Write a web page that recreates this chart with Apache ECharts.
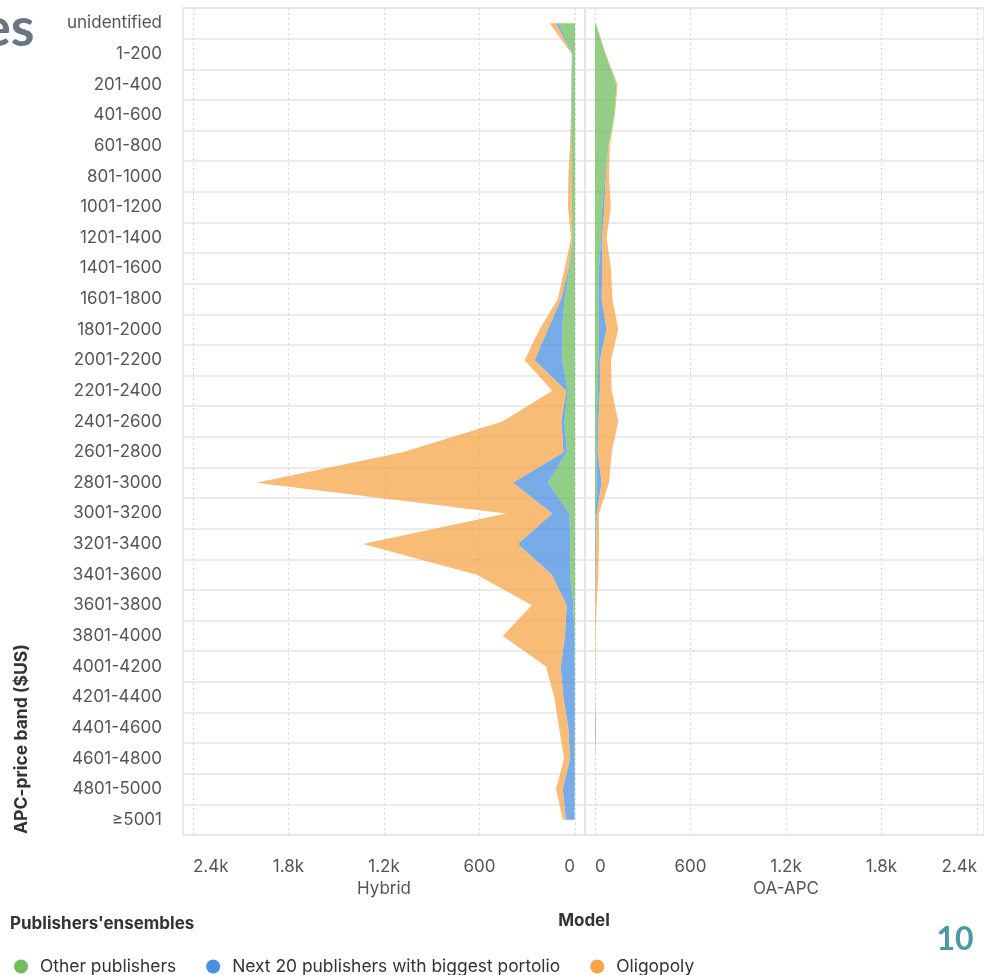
<!DOCTYPE html>
<html><head><meta charset="utf-8">
<script src="https://cdn.jsdelivr.net/npm/echarts@6/dist/echarts.min.js"></script>
<style>html,body{margin:0;padding:0;background:#fff}#c{width:984px;height:975px}</style>
</head><body><div id="c"></div>
<script>
const categories = ['unidentified','1-200','201-400','401-600','601-800','801-1000','1001-1200','1201-1400','1401-1600','1601-1800','1801-2000','2001-2200','2201-2400','2401-2600','2601-2800','2801-3000','3001-3200','3201-3400','3401-3600','3601-3800','3801-4000','4001-4200','4201-4400','4401-4600','4601-4800','4801-5000','≥5001'];
const seriesNames = ['Other publishers','Next 20 publishers with biggest portolio','Oligopoly'];
const panelNames = ['Hybrid','OA-APC'];
const xTickValues = [0, 600, 1200, 1800, 2400];
const xTickLabels = ['0', '600', '1.2k', '1.8k', '2.4k'];

// Hybrid model
const hybridOther     = [105,15,20,22,22,20,20,15,35,66,80,80,45,66,51,171,35,30,31,10,4,2,2,2,2,2,2];
const hybridNext20    = [15,3,2,2,2,2,2,2,5,21,91,174,10,21,21,220,108,329,115,42,59,88,71,40,29,75,55];
const hybridOligopoly = [40,2,2,2,8,20,22,8,25,21,52,63,88,368,1012,1612,289,974,470,220,391,92,57,58,38,42,20];
// OA-APC model
const oaOther     = [5,65,136,120,85,63,46,38,25,21,25,20,18,10,10,10,5,3,2,1,1,1,0,0,0,0,0];
const oaNext20    = [0,0,0,0,0,5,13,8,21,21,48,11,13,11,7,32,6,4,3,1,0,0,0,5,0,0,0];
const oaOligopoly = [0,3,6,5,8,20,41,27,54,67,73,69,74,125,88,46,14,18,16,8,3,1,1,1,1,1,1];

const colors = ['#6ebe5d', '#4a90e2', '#f5a54a'];
const FONT = 'Inter, "Noto Sans", sans-serif';
const FS = 17;

function tickFmt(v) {
  const i = xTickValues.indexOf(v);
  return i >= 0 ? xTickLabels[i] : '';
}
const gridLineColor = '#e4e4e4';

function dataXAxis(gi, inverse, name) {
  return {
    gridIndex: gi, type: 'value', min: xTickValues[0], max: xTickValues[xTickValues.length - 1],
    interval: xTickValues[1] - xTickValues[0], inverse: inverse,
    axisLine: { show: false }, axisTick: { show: false },
    splitLine: { show: true, lineStyle: { color: '#d6d6d6', type: [2, 3], width: 1 } },
    axisLabel: { formatter: tickFmt, color: '#555', fontSize: FS, fontFamily: FONT, margin: 23,
      alignMinLabel: inverse ? 'right' : 'left', alignMaxLabel: inverse ? 'left' : 'right' },
    name: name, nameLocation: 'middle', nameGap: 45,
    nameTextStyle: { color: '#555', fontSize: FS, fontFamily: FONT }
  };
}
function hiddenCatAxis(gi) {
  return { gridIndex: gi, type: 'category', data: categories, inverse: true, show: false };
}
function bgCatAxis(gi, labels) {
  return {
    gridIndex: gi, type: 'category', data: categories, inverse: true,
    axisLine: { show: false }, axisTick: { show: false },
    axisLabel: { show: labels, interval: 0, margin: 21, color: '#555', fontSize: FS, fontFamily: FONT },
    splitLine: { show: true, interval: 0, lineStyle: { color: gridLineColor, width: 1.5 } }
  };
}
function mkSeries(name, data, idx, stack, axisIdx) {
  return {
    name: name, type: 'line', stack: stack, data: data,
    xAxisIndex: axisIdx, yAxisIndex: axisIdx,
    showSymbol: false, symbol: 'none',
    lineStyle: { width: 0 }, itemStyle: { color: colors[idx] },
    areaStyle: { color: colors[idx], opacity: 0.75 },
    emphasis: { disabled: true }, z: 3
  };
}

const chart = echarts.init(document.getElementById('c'), null, { renderer: 'canvas' });
chart.setOption({
  animation: false,
  backgroundColor: '#fff',
  textStyle: { fontFamily: FONT },
  grid: [
    { left: 193, top: 8, width: 382, height: 827 },
    { left: 595, top: 8, width: 382, height: 827 },
    { left: 183, top: 8, width: 402, height: 827, show: true, borderColor: gridLineColor, borderWidth: 1.5, backgroundColor: 'transparent' },
    { left: 585, top: 8, width: 402, height: 827, show: true, borderColor: gridLineColor, borderWidth: 1.5, backgroundColor: 'transparent' }
  ],
  xAxis: [
    dataXAxis(0, true, panelNames[0]),
    dataXAxis(1, false, panelNames[1]),
    { gridIndex: 2, type: 'value', show: false, splitLine: { show: false } },
    { gridIndex: 3, type: 'value', show: false, splitLine: { show: false } }
  ],
  yAxis: [ hiddenCatAxis(0), hiddenCatAxis(1), bgCatAxis(2, true), bgCatAxis(3, false) ],
  legend: {
    data: seriesNames, left: 14, top: 958, padding: 0, icon: 'circle', itemWidth: 28, itemHeight: 14, itemGap: 30,
    textStyle: { color: '#333', fontSize: 17.4, fontFamily: FONT }, selectedMode: false
  },
  series: [
    mkSeries(seriesNames[0], hybridOther, 0, 'hyb', 0),
    mkSeries(seriesNames[1], hybridNext20, 1, 'hyb', 0),
    mkSeries(seriesNames[2], hybridOligopoly, 2, 'hyb', 0),
    mkSeries(seriesNames[0], oaOther, 0, 'oa', 1),
    mkSeries(seriesNames[1], oaNext20, 1, 'oa', 1),
    mkSeries(seriesNames[2], oaOligopoly, 2, 'oa', 1)
  ],
  graphic: [
    { type: 'text', left: -18, top: 2, style: { text: 'es', font: 'bold 54px Lato, "Noto Sans", sans-serif', fill: '#6b7683' } },
    { type: 'text', x: 22, y: 834, rotation: Math.PI / 2, style: { text: 'APC-price band ($US)', font: 'bold 17.5px ' + FONT, fill: '#333', align: 'left', verticalAlign: 'middle' } },
    { type: 'text', x: 10, y: 924, style: { text: "Publishers'ensembles", font: 'bold 17px ' + FONT, fill: '#333', align: 'left', verticalAlign: 'middle' } },
    { type: 'text', x: 584, y: 921, style: { text: 'Model', font: 'bold 17px ' + FONT, fill: '#333', align: 'center', verticalAlign: 'middle' } },
    { type: 'text', x: 955, y: 940, style: { text: '10', font: 'bold 32px Lato, "Noto Sans", sans-serif', fill: '#4a9aa6', align: 'center', verticalAlign: 'middle' } }
  ]
});
</script></body></html>
